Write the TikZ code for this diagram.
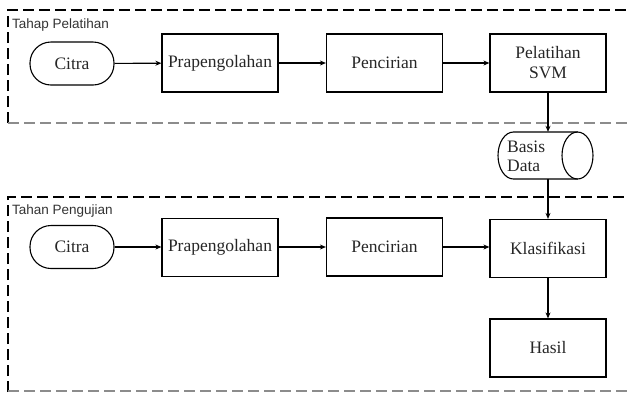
\documentclass[tikz,border=0pt]{standalone}
\usepackage{fontspec}
\setmainfont{Liberation Serif}
\newfontfamily\lblfont{Liberation Sans}
\usetikzlibrary{arrows.meta}
\begin{document}
\begin{tikzpicture}[x=1pt,y=-1pt,
  every node/.style={font=\fontsize{17.5}{21}\selectfont, text=black!85, inner sep=0pt},
  procbox/.style={draw, line width=1.2pt, minimum width=116pt, minimum height=58pt, align=center},
  termbox/.style={draw, line width=1.1pt, rounded corners=21pt, minimum width=84pt, minimum height=43pt},
  conn/.style={line width=1.1pt, -{Stealth[length=6pt,width=5pt]}},
  frameline/.style={line width=1.3pt, dash pattern=on 11pt off 5pt},
  framelbl/.style={font=\lblfont\fontsize{13.5}{16}\selectfont, text=black!80, anchor=base west}
]
\useasboundingbox (0,0) rectangle (627,392);
% frames
\draw[frameline] (8,123) -- (8,10) -- (640,10);
\draw[frameline, black!45] (8,123) -- (640,123);
\draw[frameline] (8,392) -- (8,197) -- (640,197);
\draw[frameline, black!45] (8,391) -- (640,391);
\node[framelbl] (lbl1) at (12,28) {Tahap Pelatihan};
\node[framelbl] (lbl2) at (12,214) {Tahan Pengujian};
% top row
\node[termbox] (cit1) at (72,63.5) {Citra};
\node[procbox] (pra1) at (220,63) {Prapengolahan};
\node[procbox] (pen1) at (384.5,63) {Pencirian};
\node[procbox] (pel) at (548,63) {Pelatihan\\[-1pt]SVM};
% database
\node[minimum width=95pt, minimum height=47pt] (db) at (545.5,155.5) {};
\draw[line width=1.1pt] (577.5,132) -- (513.5,132)
  arc[start angle=90, end angle=270, x radius=15.5pt, y radius=23.5pt] -- (577.5,179);
\draw[line width=1.1pt] (577.5,155.5) ellipse [x radius=15.5pt, y radius=23.5pt];
\node[anchor=west, align=left] (dbt) at (507,156) {Basis\\[-2pt]Data};
% bottom row
\node[termbox] (cit2) at (72,247) {Citra};
\node[procbox] (pra2) at (220,247.5) {Prapengolahan};
\node[procbox] (pen2) at (384.5,247) {Pencirian};
\node[procbox] (kla) at (548,248.5) {Klasifikasi};
\node[procbox] (has) at (548,348) {Hasil};
% connectors
\draw[conn] (cit1) -- (pra1);
\draw[conn] (pra1) -- (pen1);
\draw[conn] (pen1) -- (pel);
\draw[conn] (pel.south) -- (pel.south |- db.north);
\draw[conn] (pel.south |- db.south) -- (kla.north);
\draw[conn] (cit2) -- (cit2 -| pra2.west);
\draw[conn] (pra2.east |- pen2) -- (pen2);
\draw[conn] (pen2) -- (pen2 -| kla.west);
\draw[conn] (kla) -- (has);
\end{tikzpicture}
\end{document}
